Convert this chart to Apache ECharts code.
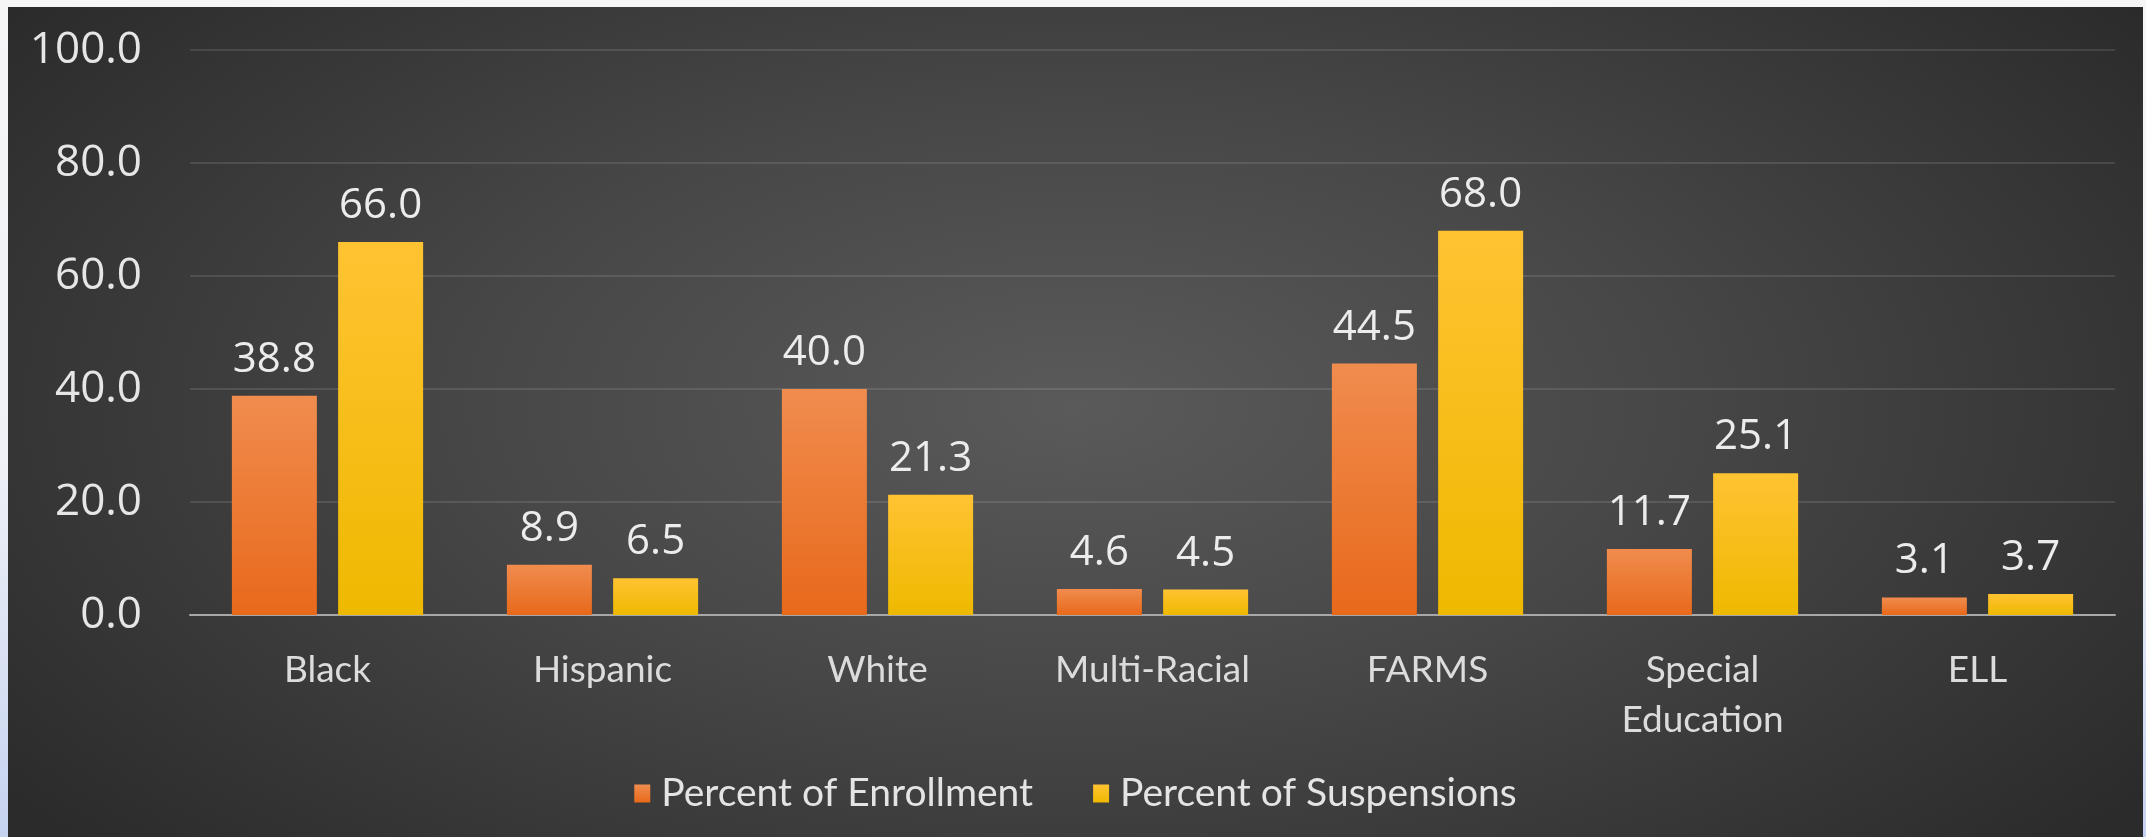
<!DOCTYPE html>
<html>
<head>
<meta charset="utf-8">
<script src="https://cdn.jsdelivr.net/npm/echarts@6/dist/echarts.min.js"></script>
<style>
  html, body { margin: 0; padding: 0; }
  body {
    width: 2146px; height: 837px; overflow: hidden; position: relative;
    background: linear-gradient(to bottom, #f6f6f7 0%, #eff1f6 55%, #c6d3f0 100%);
  }
  #chart {
    position: absolute; left: 8px; top: 7px; width: 2135px; height: 830px;
    background: radial-gradient(ellipse 62% 80% at 50% 48%, #5a5a5a 0%, #474747 45%, #2b2b2b 100%);
  }
</style>
</head>
<body>
<div id="chart"></div>
<script>
// Student groups on the x axis
const categories = ['Black', 'Hispanic', 'White', 'Multi-Racial', 'FARMS', 'Special\nEducation', 'ELL'];
// Share of total enrollment, percent
const enrollment = [38.8, 8.9, 40.0, 4.6, 44.5, 11.7, 3.1];
// Share of total suspensions, percent
const suspensions = [66.0, 6.5, 21.3, 4.5, 68.0, 25.1, 3.7];
// Value axis ticks
const yTicks = [0, 20, 40, 60, 80, 100];

const seriesNames = ['Percent of Enrollment', 'Percent of Suspensions'];

function vGrad(top, bottom) {
  return new echarts.graphic.LinearGradient(0, 0, 0, 1, [
    { offset: 0, color: top },
    { offset: 1, color: bottom }
  ]);
}

const orange = vGrad('#f08c4e', '#e8691b');
const yellow = vGrad('#ffc332', '#eeb900');

const valueLabel = {
  show: true,
  position: 'top',
  distance: 15,
  color: '#ececec',
  fontFamily: 'Open Sans',
  fontSize: 42,
  formatter: p => Number(p.value).toFixed(1)
};

const chart = echarts.init(document.getElementById('chart'), null, { renderer: 'canvas' });
chart.setOption({
  backgroundColor: 'transparent',
  animation: false,
  grid: { left: 182, right: 28, top: 43, bottom: 222, containLabel: false },
  legend: {
    top: 762,
    left: 'center',
    itemWidth: 16,
    itemHeight: 18,
    itemGap: 60,
    icon: 'rect',
    textStyle: { color: '#e4e4e4', fontFamily: 'Lato', fontSize: 39, padding: [0, 0, 0, 6] },
    data: seriesNames
  },
  xAxis: {
    type: 'category',
    data: categories,
    axisLine: { show: true, lineStyle: { color: '#a8a8a8', width: 2 } },
    axisTick: { show: false },
    axisLabel: {
      color: '#dcdcdc', fontFamily: 'Lato', fontSize: 37, lineHeight: 50, margin: 30,
      interval: 0
    }
  },
  yAxis: {
    type: 'value',
    min: yTicks[0],
    max: yTicks[yTicks.length - 1],
    interval: yTicks[1] - yTicks[0],
    axisLine: { show: false },
    axisTick: { show: false },
    splitLine: { lineStyle: { color: 'rgba(255,255,255,0.11)', width: 2 } },
    axisLabel: {
      color: '#e6e6e6', fontFamily: 'Open Sans', fontSize: 44, margin: 48,
      formatter: v => v.toFixed(1)
    }
  },
  series: [
    {
      name: seriesNames[0],
      type: 'bar',
      data: enrollment,
      barWidth: 85,
      barGap: '25%',
      itemStyle: { color: orange },
      label: valueLabel
    },
    {
      name: seriesNames[1],
      type: 'bar',
      data: suspensions,
      barWidth: 85,
      barGap: '25%',
      itemStyle: { color: yellow },
      label: valueLabel
    }
  ]
});
</script>
</body>
</html>
